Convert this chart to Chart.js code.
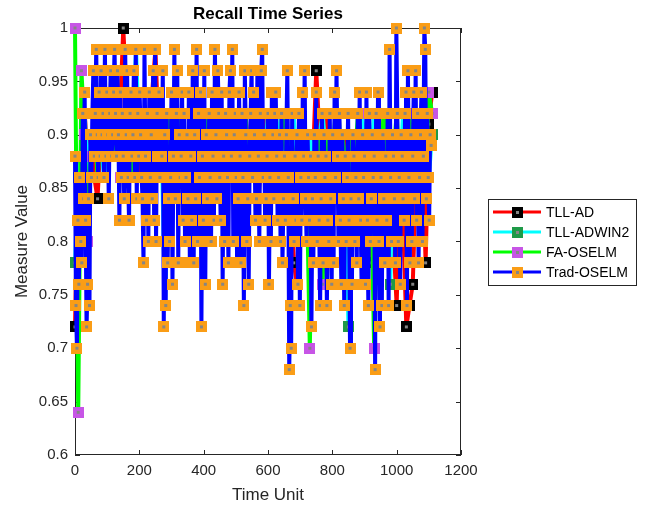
<!DOCTYPE html>
<html>
<head>
<meta charset="utf-8">
<title>Recall Time Series</title>
<script src="https://cdn.jsdelivr.net/npm/chart.js@4.4.1/dist/chart.umd.min.js"></script>
<style>
  html, body { margin: 0; padding: 0; background: #fff; }
  #wrap { position: relative; width: 646px; height: 508px; }
</style>
</head>
<body>
<div id="wrap"><canvas id="recallChart" width="646" height="508"></canvas></div>
<script>
/* ---------------------------------------------------------
   Recall per time unit for the four online learners.
   Trad-OSELM is sampled every 3 units, the others every 10.
   --------------------------------------------------------- */
const TRAD_STEP = 3;
const MODEL_STEP = 10;

const seriesNames = ['TLL-AD', 'TLL-ADWIN2', 'FA-OSELM', 'Trad-OSELM'];
const xTicks = [0, 200, 400, 600, 800, 1000, 1200];
const yTicks = [0.6, 0.65, 0.7, 0.75, 0.8, 0.85, 0.9, 0.95, 1];

const tllAd = [
  0.72, 0.88, 0.86, 0.92, 0.88, 0.90, 0.86, 0.84, 0.90, 0.88,
  0.92, 0.90, 0.94, 0.88, 0.92, 1.00, 0.94, 0.90, 0.88, 0.92,
  0.86, 0.90, 0.88, 0.92, 0.94, 0.98, 0.90, 0.88, 0.86, 0.92,
  0.90, 0.88, 0.92, 0.86, 0.90, 0.88, 0.92, 0.90, 0.86, 0.88,
  0.92, 0.90, 0.86, 0.88, 0.92, 0.90, 0.88, 0.86, 0.90, 0.92,
  0.88, 0.86, 0.90, 0.92, 0.88, 0.86, 0.90, 0.84, 0.88, 0.92,
  0.86, 0.90, 0.88, 0.84, 0.92, 0.86, 0.90, 0.88, 0.78, 0.76,
  0.86, 0.88, 0.90, 0.86, 0.88, 0.96, 0.90, 0.88, 0.92, 0.86,
  0.90, 0.88, 0.92, 0.86, 0.90, 0.88, 0.84, 0.90, 0.86, 0.92,
  0.88, 0.86, 0.78, 0.88, 0.90, 0.86, 0.92, 0.88, 0.86, 0.80,
  0.74, 0.86, 0.82, 0.72, 0.74, 0.76, 0.86, 0.90, 0.88, 0.78,
  0.91, 0.94
];

const tllAdwin2 = [
  0.78, 0.86, 0.88, 0.92, 0.86, 0.90, 0.88, 0.92, 0.90, 0.86,
  0.88, 0.92, 0.90, 0.88, 0.92, 0.86, 0.90, 0.88, 0.92, 0.98,
  0.88, 0.90, 0.86, 0.92, 0.88, 0.90, 0.86, 0.88, 0.74, 0.86,
  0.90, 0.88, 0.92, 0.86, 0.90, 0.88, 0.92, 0.86, 0.90, 0.88,
  0.92, 0.86, 0.90, 0.88, 0.92, 0.86, 0.90, 0.88, 0.92, 0.86,
  0.90, 0.88, 0.92, 0.86, 0.90, 0.88, 0.92, 0.86, 0.90, 0.88,
  0.92, 0.86, 0.90, 0.88, 0.92, 0.86, 0.90, 0.88, 0.92, 0.86,
  0.90, 0.88, 0.86, 0.90, 0.88, 0.86, 0.90, 0.92, 0.88, 0.86,
  0.90, 0.88, 0.92, 0.86, 0.88, 0.72, 0.90, 0.86, 0.88, 0.92,
  0.90, 0.86, 0.88, 0.92, 0.90, 0.86, 0.88, 0.92, 0.76, 0.90,
  0.88, 0.86, 0.92, 0.90, 0.88, 0.86, 0.92, 0.90, 0.88, 0.86,
  0.86, 0.90
];

const faOselm = [
  1.00, 0.64, 0.96, 0.90, 0.80, 0.88, 0.92, 0.86, 0.90, 0.88,
  0.92, 0.90, 0.88, 0.92, 0.86, 0.90, 0.88, 0.92, 0.86, 0.90,
  0.88, 0.92, 0.86, 0.90, 0.88, 0.92, 0.86, 0.90, 0.88, 0.92,
  0.86, 0.90, 0.88, 0.92, 0.86, 0.90, 0.88, 0.92, 0.86, 0.90,
  0.88, 0.92, 0.86, 0.90, 0.88, 0.92, 0.86, 0.90, 0.88, 0.92,
  0.86, 0.90, 0.88, 0.92, 0.86, 0.90, 0.88, 0.92, 0.86, 0.90,
  0.88, 0.92, 0.86, 0.90, 0.88, 0.92, 0.86, 0.90, 0.88, 0.86,
  0.90, 0.88, 0.86, 0.70, 0.88, 0.86, 0.90, 0.76, 0.88, 0.90,
  0.88, 0.92, 0.86, 0.90, 0.88, 0.86, 0.90, 0.88, 0.92, 0.86,
  0.90, 0.88, 0.86, 0.70, 0.90, 0.88, 0.92, 0.86, 0.90, 0.88,
  0.92, 0.86, 0.90, 0.88, 0.92, 0.86, 0.90, 0.88, 0.92, 0.86,
  0.94, 0.92
];

const tradOselm = [
  0.88, 0.74, 0.70, 0.82, 0.76, 0.86, 0.80, 0.78, 0.92, 0.84,
  0.94, 0.82, 0.72, 0.76, 0.84, 0.74, 0.90, 0.86, 0.92, 0.96,
  0.88, 0.92, 0.98, 0.90, 0.86, 0.94, 0.88, 0.96, 0.90, 0.92,
  0.86, 0.98, 0.88, 0.94, 0.90, 0.84, 0.92, 0.96, 0.88, 0.90,
  0.94, 0.98, 0.92, 0.88, 0.96, 0.90, 0.82, 0.94, 0.86, 0.92,
  0.88, 0.84, 0.98, 0.90, 0.96, 0.86, 0.82, 0.92, 0.94, 0.88,
  0.90, 0.96, 0.86, 0.98, 0.84, 0.92, 0.88, 0.94, 0.90, 0.86,
  0.84, 0.78, 0.98, 0.88, 0.82, 0.92, 0.80, 0.94, 0.86, 0.90,
  0.84, 0.96, 0.82, 0.98, 0.80, 0.92, 0.88, 0.94, 0.86, 0.90,
  0.88, 0.96, 0.72, 0.90, 0.74, 0.92, 0.78, 0.84, 0.80, 0.86,
  0.94, 0.76, 0.88, 0.98, 0.84, 0.92, 0.96, 0.78, 0.90, 0.86,
  0.88, 0.94, 0.82, 0.92, 0.80, 0.86, 0.90, 0.84, 0.94, 0.78,
  0.88, 0.82, 0.96, 0.78, 0.90, 0.84, 0.98, 0.80, 0.92, 0.86,
  0.94, 0.72, 0.88, 0.82, 0.96, 0.76, 0.90, 0.84, 0.80, 0.92,
  0.86, 0.80, 0.94, 0.88, 0.82, 0.98, 0.90, 0.84, 0.96, 0.92,
  0.86, 0.82, 0.94, 0.76, 0.88, 0.80, 0.92, 0.90, 0.86, 0.78,
  0.94, 0.96, 0.88, 0.98, 0.80, 0.90, 0.92, 0.86, 0.78, 0.84,
  0.94, 0.88, 0.78, 0.92, 0.86, 0.74, 0.96, 0.90, 0.80, 0.84,
  0.76, 0.88, 0.92, 0.96, 0.86, 0.94, 0.90, 0.82, 0.84, 0.96,
  0.88, 0.80, 0.92, 0.96, 0.98, 0.86, 0.90, 0.82, 0.84, 0.88,
  0.92, 0.76, 0.86, 0.80, 0.94, 0.90, 0.84, 0.92, 0.94, 0.88,
  0.82, 0.86, 0.90, 0.80, 0.92, 0.78, 0.84, 0.88, 0.82, 0.90,
  0.96, 0.86, 0.68, 0.74, 0.70, 0.92, 0.84, 0.80, 0.88, 0.82,
  0.90, 0.76, 0.92, 0.74, 0.86, 0.82, 0.94, 0.88, 0.96, 0.84,
  0.80, 0.90, 0.86, 0.82, 0.88, 0.72, 0.84, 0.78, 0.90, 0.86,
  0.94, 0.80, 0.88, 0.82, 0.74, 0.84, 0.92, 0.78, 0.90, 0.86,
  0.88, 0.74, 0.82, 0.80, 0.92, 0.84, 0.76, 0.90, 0.78, 0.94,
  0.86, 0.96, 0.88, 0.80, 0.92, 0.82, 0.76, 0.90, 0.84, 0.74,
  0.88, 0.80, 0.86, 0.92, 0.82, 0.70, 0.84, 0.76, 0.90, 0.88,
  0.80, 0.86, 0.78, 0.92, 0.84, 0.94, 0.82, 0.76, 0.90, 0.86,
  0.88, 0.76, 0.94, 0.82, 0.74, 0.92, 0.80, 0.84, 0.90, 0.86,
  0.88, 0.68, 0.92, 0.82, 0.94, 0.80, 0.72, 0.86, 0.74, 0.90,
  0.84, 0.78, 0.88, 0.82, 0.92, 0.74, 0.98, 0.86, 0.80, 0.90,
  0.88, 0.84, 0.78, 1.00, 0.92, 0.80, 0.86, 0.76, 0.90, 0.88,
  0.84, 0.82, 0.92, 0.94, 0.74, 0.96, 0.86, 0.78, 0.90, 0.80,
  0.88, 0.94, 0.84, 0.96, 0.82, 0.92, 0.78, 0.86, 0.90, 0.94,
  0.80, 0.88, 1.00, 0.98, 0.84, 0.92, 0.86, 0.82, 0.90, 0.89
];

const lineColors = ['#ff0000', '#00ffff', '#00ff00', '#0000ff'];
const markerColors = ['#000000', '#1f9a48', '#c755e6', '#fa9d16'];
const AXIS_COLOR = '#262626';
const FONT = '"Liberation Sans", Arial, Helvetica, sans-serif';
const MARKER_SIZE = 11;

// square marker with a grey centre, drawn once and reused as pointStyle
function makeMarker(fill) {
  const c = document.createElement('canvas');
  c.width = MARKER_SIZE; c.height = MARKER_SIZE;
  const g = c.getContext('2d');
  g.fillStyle = fill;
  g.fillRect(0, 0, MARKER_SIZE, MARKER_SIZE);
  g.fillStyle = '#858585';
  g.fillRect(4, 4, 3, 3);
  return c;
}
const markers = markerColors.map(makeMarker);

function toPoints(values, step) {
  return values.map((v, i) => ({ x: i * step, y: v }));
}

function makeDataset(idx, values, step) {
  return {
    label: seriesNames[idx],
    data: toPoints(values, step),
    borderColor: lineColors[idx],
    backgroundColor: lineColors[idx],
    borderWidth: 4,
    borderJoinStyle: 'bevel',
    tension: 0,
    pointStyle: markers[idx],
    pointRadius: 5,
    pointHoverRadius: 5,
    clip: 14,
    order: 4 - idx   // later series are painted on top
  };
}

// axes box with inward ticks, drawn below the data
const axesBox = {
  id: 'axesBox',
  beforeDatasetsDraw(chart) {
    const { ctx, chartArea: a, scales } = chart;
    ctx.save();
    ctx.strokeStyle = AXIS_COLOR;
    ctx.lineWidth = 1;
    ctx.strokeRect(Math.round(a.left) + 0.5, Math.round(a.top) + 0.5,
                   Math.round(a.right - a.left) - 1, Math.round(a.bottom - a.top) - 1);
    ctx.beginPath();
    xTicks.forEach(v => {
      const px = Math.round(scales.x.getPixelForValue(v)) + 0.5;
      ctx.moveTo(px, a.bottom); ctx.lineTo(px, a.bottom - 5);
      ctx.moveTo(px, a.top); ctx.lineTo(px, a.top + 5);
    });
    yTicks.forEach(v => {
      const py = Math.round(scales.y.getPixelForValue(v)) + 0.5;
      ctx.moveTo(a.left, py); ctx.lineTo(a.left + 5, py);
      ctx.moveTo(a.right, py); ctx.lineTo(a.right - 5, py);
    });
    ctx.stroke();
    ctx.restore();
  },
  afterDraw(chart) {
    const { ctx, chartArea: a } = chart;
    const cx = (a.left + a.right) / 2;
    ctx.save();
    ctx.fillStyle = '#000';
    ctx.textAlign = 'center';
    ctx.textBaseline = 'middle';
    ctx.font = 'bold 17px ' + FONT;
    ctx.fillText('Recall Time Series', cx, 14);

    ctx.fillStyle = AXIS_COLOR;
    ctx.font = '17px ' + FONT;
    ctx.fillText('Time Unit', cx, 495);
    ctx.translate(22, (a.top + a.bottom) / 2);
    ctx.rotate(-Math.PI / 2);
    ctx.fillText('Measure Value', 0, 0);
    ctx.restore();

    // legend: line with marker, then name
    ctx.save();
    ctx.fillStyle = '#fff';
    ctx.fillRect(488, 199, 148, 86);
    ctx.strokeStyle = AXIS_COLOR;
    ctx.lineWidth = 1;
    ctx.strokeRect(488.5, 199.5, 148, 86);
    ctx.font = '14px ' + FONT;
    ctx.textAlign = 'left';
    ctx.textBaseline = 'middle';
    seriesNames.forEach((name, i) => {
      const y = 212 + i * 20;
      ctx.strokeStyle = lineColors[i];
      ctx.lineWidth = 3;
      ctx.beginPath();
      ctx.moveTo(493, y); ctx.lineTo(541, y);
      ctx.stroke();
      ctx.drawImage(markers[i], 512, y - 5);
      ctx.fillStyle = '#000';
      ctx.fillText(name, 546, y + 1);
    });
    ctx.restore();
  }
};

new Chart(document.getElementById('recallChart'), {
  type: 'line',
  data: {
    datasets: [
      makeDataset(0, tllAd, MODEL_STEP),
      makeDataset(1, tllAdwin2, MODEL_STEP),
      makeDataset(2, faOselm, MODEL_STEP),
      makeDataset(3, tradOselm, TRAD_STEP)
    ]
  },
  options: {
    responsive: false,
    animation: false,
    devicePixelRatio: 1,
    events: [],
    layout: { padding: { top: 28, right: 185, left: 0, bottom: 0 } },
    plugins: { legend: { display: false }, tooltip: { enabled: false }, title: { display: false } },
    scales: {
      x: {
        type: 'linear',
        min: 0, max: 1200,
        grid: { display: false, drawTicks: false },
        border: { display: false },
        afterBuildTicks: s => { s.ticks = xTicks.map(v => ({ value: v })); },
        afterFit: s => { s.height = 53; s.paddingLeft = 0; s.paddingRight = 0; },
        ticks: {
          autoSkip: false, maxRotation: 0, padding: 7,
          color: AXIS_COLOR, font: { family: FONT, size: 15 },
          callback: v => String(v)
        }
      },
      y: {
        type: 'linear',
        min: 0.6, max: 1,
        grid: { display: false, drawTicks: false },
        border: { display: false },
        afterBuildTicks: s => { s.ticks = yTicks.map(v => ({ value: v })); },
        afterFit: s => { s.width = 75; s.paddingTop = 0; s.paddingBottom = 0; },
        ticks: {
          autoSkip: false, padding: 7,
          color: AXIS_COLOR, font: { family: FONT, size: 15 },
          callback: v => String(+v.toFixed(2))
        }
      }
    }
  },
  plugins: [axesBox]
});
</script>
</body>
</html>
